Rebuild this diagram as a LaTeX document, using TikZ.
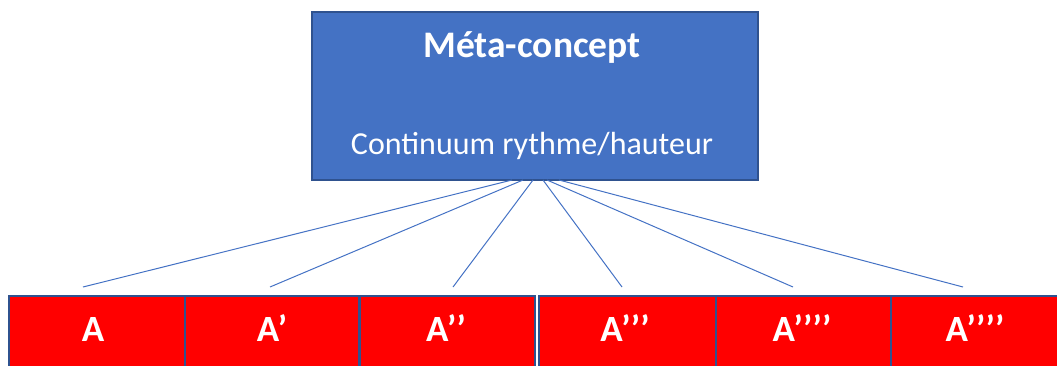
\documentclass[tikz,border=0pt]{standalone}
\usepackage{fontspec}
\setmainfont{Carlito}
\begin{document}
\begin{tikzpicture}[x=1pt,y=-1pt,
  meta/.style={draw=metaborder,line width=1.5pt,fill=metablue,minimum width=446pt,minimum height=168pt,inner sep=0pt},
  redbox/.style={draw=metaborder,line width=2pt,fill=red,minimum width=176pt,minimum height=120pt,inner sep=0pt,anchor=north west},
  lbl/.style={text=white,font=\fontsize{37}{40}\selectfont\bfseries,anchor=base},
  conn/.style={draw=metablue,line width=1pt}]
\definecolor{metablue}{HTML}{4472C4}
\definecolor{metaborder}{HTML}{2F528F}
\useasboundingbox (0,0) rectangle (1057,365);
\clip (0,0) rectangle (1057,365);
\node[meta] (meta) at (535,96) {};
\node[text=white,font=\fontsize{37.5}{40}\selectfont\bfseries,anchor=base] (title) at (532,57) {Méta-concept};
\node[text=white,font=\fontsize{32}{36}\selectfont,anchor=base] (sub) at (532,154) {Continuum rythme/hauteur};
\node[redbox,minimum width=176pt] (b1) at (8,295) {};
\node[redbox,minimum width=174pt] (b2) at (184,295) {};
\node[redbox,minimum width=175pt] (b3) at (359,295) {};
\node[redbox,minimum width=177pt] (b4) at (538,295) {};
\node[redbox,minimum width=175pt] (b5) at (715,295) {};
\node[redbox,minimum width=180pt] (b6) at (890,295) {};
\node[lbl] (l1) at (93,341) {A};
\node[lbl] (l2) at (272,341) {A’};
\node[lbl] (l3) at (446,341) {A’’};
\node[lbl] (l4) at (625,341) {A’’’};
\node[lbl] (l5) at (802,341) {A’’’’};
\node[lbl] (l6) at (975,341) {A’’’’};
\coordinate (s1) at (512,180); \coordinate (e1) at (83,287);
\coordinate (s2) at (523,180); \coordinate (e2) at (270,287);
\coordinate (s3) at (533,180); \coordinate (e3) at (453,287);
\coordinate (s4) at (543,180); \coordinate (e4) at (622,287);
\coordinate (s5) at (547,180); \coordinate (e5) at (793,287);
\coordinate (s6) at (559,180); \coordinate (e6) at (963,287);
\foreach \i in {1,...,6} {\draw[conn] (s\i) -- (e\i);}
\end{tikzpicture}
\end{document}
